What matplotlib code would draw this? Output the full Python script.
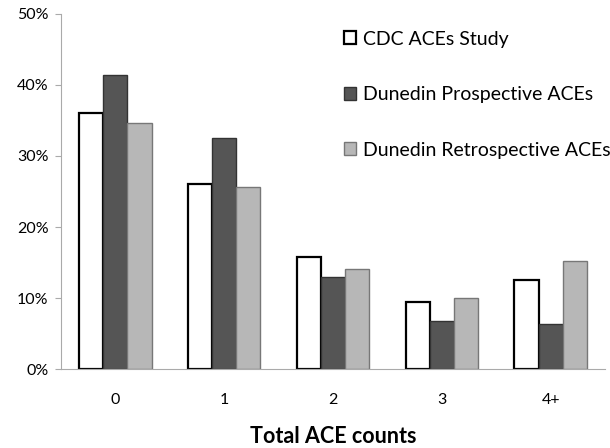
import numpy as np
import matplotlib.pyplot as plt
from matplotlib.ticker import PercentFormatter

plt.rcParams['font.family'] = ['Lato', 'DejaVu Sans']

categories = ['0', '1', '2', '3', '4+']
series_names = ['CDC ACEs Study', 'Dunedin Prospective ACEs', 'Dunedin Retrospective ACEs']
cdc = [36.1, 26.1, 15.8, 9.5, 12.5]
prospective = [41.4, 32.5, 13.0, 6.8, 6.4]
retrospective = [34.7, 25.7, 14.1, 10.0, 15.2]

fills = ['white', '#555555', '#b7b7b7']
edges = ['black', '#333333', '#777777']
lws = [1.6, 1.0, 1.0]

fig = plt.figure(figsize=(6.1, 4.48), dpi=100)
ax = fig.add_axes([0.1, 0.176, 0.892, 0.793])

x = np.arange(len(categories))
w = 0.222
for i, vals in enumerate([cdc, prospective, retrospective]):
    ax.bar(x + (i - 1) * w, vals, width=w, color=fills[i], edgecolor=edges[i],
           linewidth=lws[i], label=series_names[i], zorder=2)

ax.set_xlim(-0.5, 4.5)
ax.set_ylim(0, 50)
ax.set_yticks(range(0, 51, 10))
ax.yaxis.set_major_formatter(PercentFormatter(decimals=0))
ax.set_xticks(x)
ax.set_xticklabels(categories)
ax.tick_params(axis='x', length=0, pad=17, labelsize=11.5)
ax.tick_params(axis='y', length=4, color='#aaaaaa', labelsize=11.5, pad=5)
for s in ['top', 'right']:
    ax.spines[s].set_visible(False)
for s in ['left', 'bottom']:
    ax.spines[s].set_color('#aaaaaa')
ax.set_xlabel('Total ACE counts', fontsize=15.5, fontweight='bold', labelpad=14)

leg = ax.legend(loc='upper left', bbox_to_anchor=(0.505, 0.975), frameon=False,
                fontsize=14, handlelength=0.65, handleheight=0.65, handletextpad=0.35,
                labelspacing=1.98, borderaxespad=0)

fig.savefig('out.png', dpi=100)
